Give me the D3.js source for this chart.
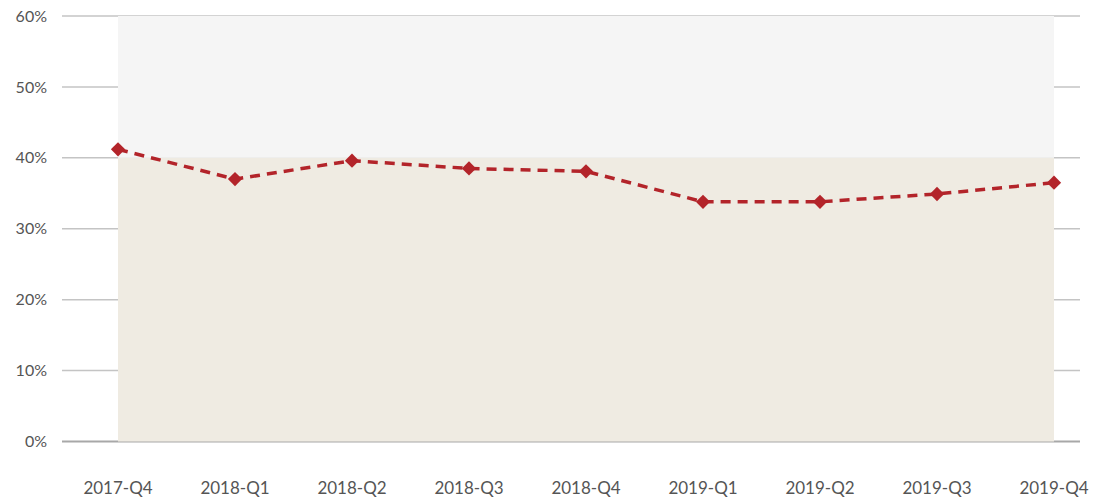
<!DOCTYPE html>
<html>
<head>
<meta charset="utf-8">
<script src="https://cdn.jsdelivr.net/npm/d3@7"></script>
<style>
  body { margin: 0; background: #fff; }
  text { font-family: "Lato", "Open Sans", sans-serif; fill: #555; }
</style>
</head>
<body>
<div id="chart"></div>
<script>
"use strict";

// quarters and share values (%)
const quarters = ["2017-Q4", "2018-Q1", "2018-Q2", "2018-Q3", "2018-Q4", "2019-Q1", "2019-Q2", "2019-Q3", "2019-Q4"];
const shares = [41.2, 37.0, 39.6, 38.5, 38.1, 33.8, 33.8, 34.9, 36.5];
const yTicks = [0, 10, 20, 30, 40, 50, 60];
const bands = [{from: 0, to: 40, color: "#efebe2"}, {from: 40, to: 60, color: "#f5f5f5"}];

const width = 1105;
const height = 501;

const x = d3.scalePoint()
    .domain(quarters)
    .range([118, 1054]);

const y = d3.scaleLinear()
    .domain([0, 60])
    .range([441.5, 16]);

const svg = d3.select("#chart").append("svg")
    .attr("width", width)
    .attr("height", height);

// gridlines
svg.append("g")
    .selectAll("line")
    .data(yTicks)
    .join("line")
        .attr("x1", 62)
        .attr("x2", 1080)
        .attr("y1", d => y(d))
        .attr("y2", d => y(d))
        .attr("stroke", d => d === 0 ? "#a8a8a8" : "#c4c4c4")
        .attr("stroke-width", d => d === 0 ? 2 : 1.5);

// shaded bands
svg.append("g")
    .selectAll("rect")
    .data(bands)
    .join("rect")
        .attr("x", x(quarters[0]))
        .attr("width", x(quarters[quarters.length - 1]) - x(quarters[0]))
        .attr("y", d => y(d.to))
        .attr("height", d => y(d.from) - y(d.to))
        .attr("fill", d => d.color);

// y labels
svg.append("g")
    .selectAll("text")
    .data(yTicks)
    .join("text")
        .attr("x", 47)
        .attr("y", d => y(d))
        .attr("dy", "0.35em")
        .attr("text-anchor", "end")
        .style("font-size", "16px")
        .text(d => d + "%");

// x labels
svg.append("g")
    .selectAll("text")
    .data(quarters)
    .join("text")
        .attr("x", d => x(d))
        .attr("y", 494)
        .attr("text-anchor", "middle")
        .style("font-size", "17px")
        .text(d => d);

const line = d3.line()
    .x((d, i) => x(quarters[i]))
    .y(d => y(d));

svg.append("path")
    .datum(shares)
    .attr("fill", "none")
    .attr("stroke", "#b3242a")
    .attr("stroke-width", 3.5)
    .attr("stroke-dasharray", "10,7")
    .attr("d", line);

svg.append("g")
    .selectAll("path")
    .data(shares)
    .join("path")
        .attr("transform", (d, i) => `translate(${x(quarters[i])},${y(d)})`)
        .attr("d", d3.symbol(d3.symbolDiamond2, 130))
        .attr("fill", "#b3242a");
</script>
</body>
</html>
